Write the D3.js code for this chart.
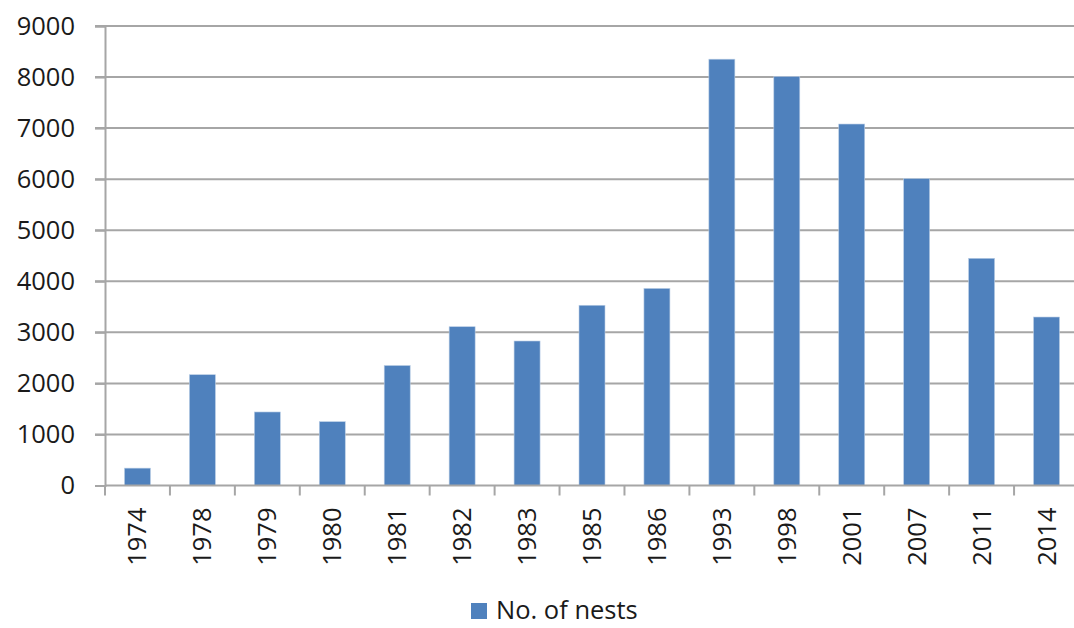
<!DOCTYPE html>
<html><head><meta charset="utf-8">
<script src="https://cdn.jsdelivr.net/npm/d3@7"></script>
<style>body{margin:0;background:#fff;}svg{display:block;font-family:"Open Sans",sans-serif;}</style>
</head><body>
<svg id="c" width="1074" height="628"></svg>
<script>
const years = ["1974","1978","1979","1980","1981","1982","1983","1985","1986","1993","1998","2001","2007","2011","2014"];
const nests = [340,2170,1440,1250,2350,3110,2830,3530,3860,8350,8010,7080,6010,4450,3300];
const yTicks = [0,1000,2000,3000,4000,5000,6000,7000,8000,9000];
const seriesName = "No. of nests";

(function () {
const svg = d3.select("#c");
const pL = 105, pR = 1079, pT = 26, pB = 485.5;
const x = d3.scaleBand().domain(years).range([pL, pR]).paddingInner(0.6).paddingOuter(0.3);
const y = d3.scaleLinear().domain([0, 9000]).range([pB, pT]);
const grid = "#a6a6a6";
const font = "'Open Sans'";
const fs = 25.5;

// gridlines
svg.append("g").selectAll("line").data(yTicks.filter(d => d > 0)).join("line")
  .attr("x1", pL - 10).attr("x2", pR).attr("y1", d => y(d)).attr("y2", d => y(d))
  .attr("stroke", grid).attr("stroke-width", 2);

// y axis
const ya = svg.append("g").attr("transform", `translate(${pL},0)`)
  .call(d3.axisLeft(y).tickValues(yTicks).tickSize(10).tickPadding(20).tickFormat(d3.format("d")));
ya.select(".domain").attr("stroke", grid).attr("stroke-width", 2);
ya.selectAll(".tick line").attr("stroke", grid).attr("stroke-width", 2);
ya.selectAll("text").attr("font-size", fs).attr("fill", "#1a1a1a").attr("font-family", font);

// bars
svg.append("g").selectAll("rect").data(years).join("rect")
  .attr("x", d => x(d)).attr("width", x.bandwidth())
  .attr("y", (d, i) => y(nests[i])).attr("height", (d, i) => pB - y(nests[i]))
  .attr("fill", "#4f81bd").attr("stroke", "#b9cde5").attr("stroke-width", 0.6);

// x axis
const xa = svg.append("g").attr("transform", `translate(0,${pB})`);
xa.append("line").attr("x1", pL).attr("x2", pR).attr("stroke", grid).attr("stroke-width", 2);
const step = x.step();
xa.selectAll("line.tk").data(d3.range(years.length + 1)).join("line").attr("class", "tk")
  .attr("x1", i => pL + i * step).attr("x2", i => pL + i * step)
  .attr("y1", 0).attr("y2", 10).attr("stroke", grid).attr("stroke-width", 2);
xa.selectAll("text").data(years).join("text")
  .attr("transform", d => `translate(${x(d) + x.bandwidth() / 2 + 9},22) rotate(-90)`)
  .attr("text-anchor", "end").attr("font-size", fs).attr("fill", "#1a1a1a")
  .attr("font-family", font).text(d => d);

// legend
const lg = svg.append("g").attr("transform", "translate(471,603)");
lg.append("rect").attr("width", 16).attr("height", 16).attr("fill", "#4f81bd");
lg.append("text").attr("x", 25).attr("y", 16).attr("font-size", fs).attr("fill", "#1a1a1a")
  .attr("font-family", font).text(seriesName);
})();
</script>
</body></html>
